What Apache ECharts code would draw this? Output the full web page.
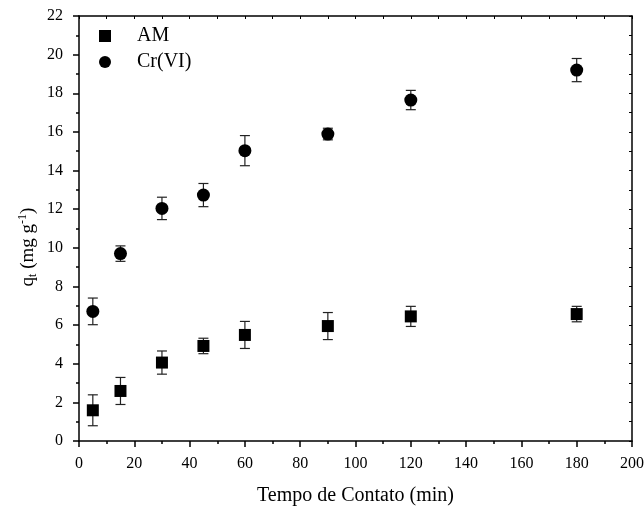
<!DOCTYPE html>
<html>
<head>
<meta charset="utf-8">
<script src="https://cdn.jsdelivr.net/npm/echarts@6/dist/echarts.min.js"></script>
<style>
html,body{margin:0;padding:0;background:#fff;}
#chart{width:644px;height:506px;}
</style>
</head>
<body>
<div id="chart"></div>
<script>
// Data
var times = [5, 15, 30, 45, 60, 90, 120, 180];
var amValues = [1.59, 2.59, 4.06, 4.92, 5.49, 5.95, 6.45, 6.57];
var amErrors = [0.80, 0.70, 0.60, 0.40, 0.70, 0.70, 0.52, 0.40];
var crValues = [6.71, 9.70, 12.04, 12.73, 15.03, 15.89, 17.65, 19.20];
var crErrors = [0.69, 0.40, 0.58, 0.60, 0.78, 0.30, 0.50, 0.60];
var xTicks = [0, 20, 40, 60, 80, 100, 120, 140, 160, 180, 200];
var yTicks = [0, 2, 4, 6, 8, 10, 12, 14, 16, 18, 20, 22];

var FONT = 'Liberation Serif';

function pts(vals) { return times.map(function (t, i) { return [t, vals[i]]; }); }
function errs(vals, e) { return times.map(function (t, i) { return [t, vals[i] - e[i], vals[i] + e[i]]; }); }

function renderErr(params, api) {
  var x = api.value(0);
  var lo = api.coord([x, api.value(1)]);
  var hi = api.coord([x, api.value(2)]);
  var hw = 5;
  var st = { stroke: '#222', lineWidth: 1.2 };
  return {
    type: 'group',
    children: [
      { type: 'line', shape: { x1: lo[0], y1: lo[1], x2: hi[0], y2: hi[1] }, style: st },
      { type: 'line', shape: { x1: lo[0] - hw, y1: lo[1], x2: lo[0] + hw, y2: lo[1] }, style: st },
      { type: 'line', shape: { x1: hi[0] - hw, y1: hi[1], x2: hi[0] + hw, y2: hi[1] }, style: st }
    ]
  };
}

var chart = echarts.init(document.getElementById('chart'), null, { renderer: 'canvas' });
var axisLine = { show: true, onZero: false, lineStyle: { color: '#000', width: 1.5 } };

chart.setOption({
  animation: false,
  backgroundColor: '#fff',
  grid: { left: 79, right: 12, top: 16, bottom: 65, containLabel: false, outerBoundsMode: 'none' },
  legend: {
    orient: 'vertical',
    left: 99,
    top: 26,
    padding: 0,
    itemWidth: 12,
    itemHeight: 12,
    itemGap: 6,
    data: [{ name: 'AM', icon: 'rect' }, { name: 'Cr(VI)', icon: 'circle' }],
    itemStyle: { color: '#000', opacity: 1 },
    textStyle: { fontFamily: FONT, fontSize: 20, color: '#000', padding: [0, 0, 0, 21] }
  },
  graphic: [{
    type: 'text',
    x: 28, y: 247,
    rotation: Math.PI / 2,
    style: {
      text: '{q|q}{sub|t}{q| (mg g}{sup|-1}{q|)}',
      align: 'center', verticalAlign: 'middle',
      fontFamily: FONT, fontSize: 19, fill: '#000',
      rich: {
        q: { fontFamily: FONT, fontSize: 19, fill: '#000' },
        sub: { fontFamily: FONT, fontSize: 12, fill: '#000', verticalAlign: 'bottom', padding: [10, 0, 0, 0] },
        sup: { fontFamily: FONT, fontSize: 12, fill: '#000', verticalAlign: 'top', padding: [0, 0, 10, 0] }
      }
    }
  }],
  xAxis: [{
    type: 'value', min: 0, max: 200, interval: 20, position: 'bottom',
    name: 'Tempo de Contato (min)', nameLocation: 'middle', nameGap: 45,
    nameTextStyle: { fontFamily: FONT, fontSize: 20, color: '#000' },
    axisLine: axisLine,
    axisTick: { show: true, inside: false, length: 6, lineStyle: { color: '#000', width: 1.5 } },
    minorTick: { show: true, splitNumber: 2, length: 3, lineStyle: { color: '#000', width: 1.5 } },
    axisLabel: { fontFamily: FONT, fontSize: 16, color: '#000', margin: 15,
      formatter: function (v) { return xTicks.indexOf(v) >= 0 ? String(v) : ''; } },
    splitLine: { show: false }
  }, {
    type: 'value', min: 0, max: 200, interval: 10, position: 'top',
    axisLine: axisLine,
    axisTick: { show: true, inside: true, length: 3, lineStyle: { color: '#000', width: 1 } },
    axisLabel: { show: false }, splitLine: { show: false }
  }],
  yAxis: [{
    type: 'value', min: 0, max: 22, interval: 2, position: 'left',
    axisLine: axisLine,
    axisTick: { show: true, inside: false, length: 6, lineStyle: { color: '#000', width: 1.5 } },
    minorTick: { show: true, splitNumber: 2, length: 3, lineStyle: { color: '#000', width: 1.5 } },
    axisLabel: { fontFamily: FONT, fontSize: 16, color: '#000', margin: 16,
      formatter: function (v) { return yTicks.indexOf(v) >= 0 ? String(v) : ''; } },
    splitLine: { show: false }
  }, {
    type: 'value', min: 0, max: 22, interval: 1, position: 'right',
    axisLine: axisLine,
    axisTick: { show: true, inside: true, length: 3, lineStyle: { color: '#000', width: 1 } },
    axisLabel: { show: false }, splitLine: { show: false }
  }],
  series: [
    { type: 'custom', name: 'AMerr', renderItem: renderErr, data: errs(amValues, amErrors), z: 1, silent: true },
    { type: 'custom', name: 'CRerr', renderItem: renderErr, data: errs(crValues, crErrors), z: 1, silent: true },
    { type: 'scatter', name: 'AM', data: pts(amValues), symbol: 'rect', symbolSize: 12,
      itemStyle: { color: '#000', opacity: 1 }, z: 3 },
    { type: 'scatter', name: 'Cr(VI)', data: pts(crValues), symbol: 'circle', symbolSize: 13,
      itemStyle: { color: '#000', opacity: 1 }, z: 3 }
  ]
});
</script>
</body>
</html>
